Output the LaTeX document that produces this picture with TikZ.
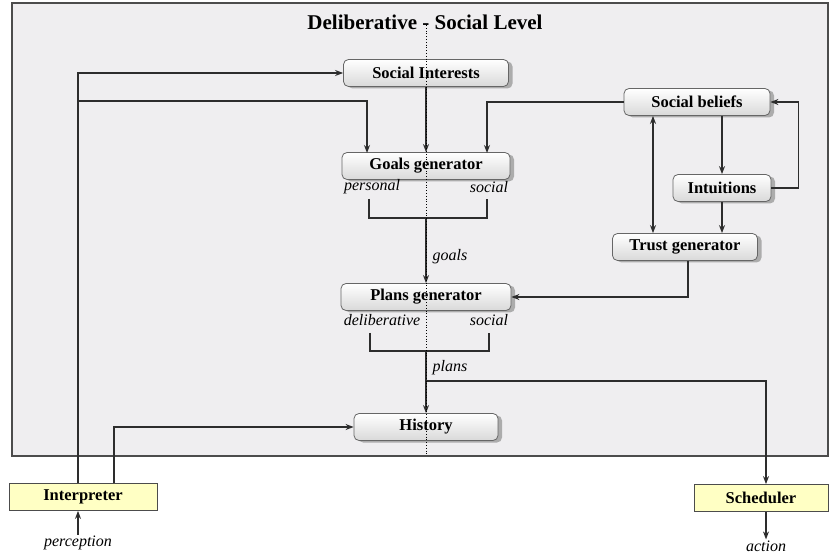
\documentclass[tikz,border=0pt]{standalone}
\usepackage{fontspec}
\setmainfont{Liberation Serif}
\usetikzlibrary{arrows.meta,shadows}
\definecolor{panelgray}{RGB}{239,238,240}
\definecolor{linegray}{RGB}{45,45,45}
\definecolor{notepad}{RGB}{255,255,196}
\begin{document}
\begin{tikzpicture}[x=1pt,y=-1pt]
  \useasboundingbox (0,0) rectangle (831,556);
  \draw[draw=gray!60!black,line width=1.6pt,fill=panelgray] (12,3) rectangle (828,456);
  \node[font=\fontsize{21}{24}\selectfont\bfseries] (title) at (425,22) {Deliberative - Social Level};
  \begin{scope}[every node/.style={draw=gray!80!black,thick,rounded corners=5pt,
      top color=white,bottom color=gray!30,minimum height=27pt,inner sep=0pt,
      drop shadow={shadow xshift=4pt,shadow yshift=-2pt,opacity=0.6},
      font=\fontsize{16.5}{19}\selectfont\bfseries}]
  \node[minimum width=165pt] (si) at (426,73) {Social Interests};
  \node[minimum width=168pt] (gg) at (426,166) {Goals generator};
  \node[minimum width=170pt] (pg) at (426,297) {Plans generator};
  \node[minimum width=144pt] (hist) at (426,427) {History};
  \node[minimum width=146pt] (sb) at (697,102) {Social beliefs};
  \node[minimum width=98pt] (intu) at (722,188) {Intuitions};
  \node[minimum width=145pt] (tg) at (685,247) {Trust generator};
  \end{scope}
  \begin{scope}[every node/.style={draw=gray!60!black,thick,fill=notepad,
      minimum height=27pt,inner sep=0pt,font=\fontsize{16.5}{19}\selectfont\bfseries}]
  \node[minimum width=148pt] (interp) at (83,497) {Interpreter};
  \node[minimum width=134pt] (sched) at (761,498) {Scheduler};
  \end{scope}
  \begin{scope}[every node/.style={font=\fontsize{16}{18}\selectfont\itshape,inner sep=1pt}]
  \node (pers) at (372,187) {personal};
  \node (gsoc) at (489,187) {social};
  \node (goals) at (450,257) {goals};
  \node (delib) at (382,320) {deliberative};
  \node (psoc) at (489,320) {social};
  \node (plans) at (450,368) {plans};
  \node (perc) at (78,543) {perception};
  \node (act) at (766,546) {action};
  \end{scope}
  \coordinate (ileft) at (78,483);
  \coordinate (jct) at (78,101);
  \coordinate (ggl) at (367,153);
  \coordinate (ggr) at (487,153);
  \coordinate (gbl) at (369,199);
  \coordinate (gbr) at (487,199);
  \coordinate (gbm) at (426,218);
  \coordinate (pbl) at (370,333);
  \coordinate (pbr) at (489,333);
  \coordinate (pbm) at (426,351);
  \coordinate (pj) at (426,381);
  \coordinate (dbl) at (653,0);
  \coordinate (dtop) at (426,25);
  \coordinate (dbot) at (426,456);
  \begin{scope}[linegray,line width=1.2pt,>={Stealth[length=8pt,width=6pt]}]
  \draw[->] (ileft) |- (si.west);
  \draw[->] (jct) -| (ggl);
  \draw[->] (sb.west) -| (ggr);
  \draw[->] (si) -- (gg);
  \draw (gbl) |- (gbm) -| (gbr);
  \draw[->] (gbm) -- (pg);
  \draw[->] ([xshift=3pt]tg.south) |- (pg.east);
  \draw[->] (sb.south -| intu.north) -- (intu.north);
  \draw[->] (intu.south) -- (tg.north -| intu.south);
  \draw[->] (intu.east) -- ++(27,0) |- (sb.east);
  \draw[<->] (sb.south -| dbl) -- (tg.north -| dbl);
  \draw (pbl) |- (pbm) -| (pbr);
  \draw[->] (pbm) -- (hist);
  \draw[->] (pj) -| ([xshift=5pt]sched.north);
  \draw[->] ([xshift=31pt]interp.north) |- (hist.west);
  \draw[->] (perc.north) -- (ileft |- interp.south);
  \draw[->] ([xshift=5pt]sched.south) -- (act.north);
  \end{scope}
  \draw[dotted,thick] (dtop) -- (dbot);
\end{tikzpicture}
\end{document}
